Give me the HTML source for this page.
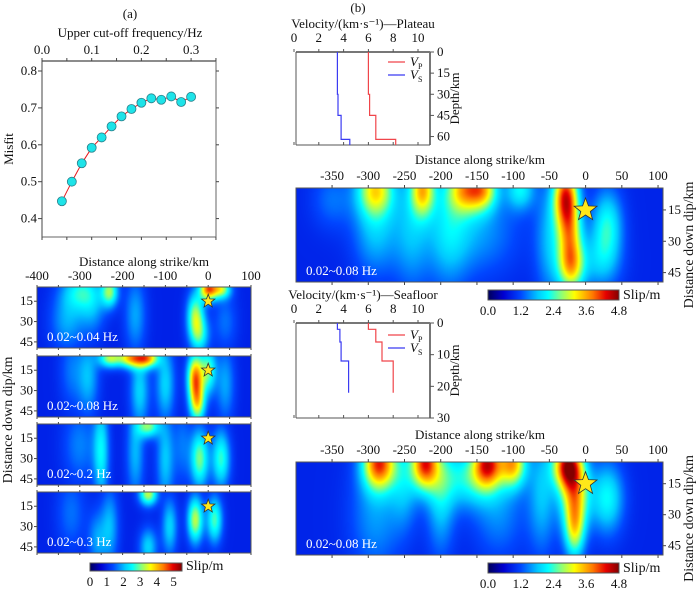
<!DOCTYPE html>
<html><head><meta charset="utf-8">
<style>
html,body{margin:0;padding:0;background:#fff;}
#wrap{position:relative;width:700px;height:591px;overflow:hidden;font-family:"Liberation Serif",serif;}
canvas{position:absolute;}
svg{position:absolute;left:0;top:0;}
text{font-family:"Liberation Serif",serif;fill:#111;}
</style></head>
<body>
<div id="wrap">
<svg id="svg" width="700" height="591"></svg>
</div>
<script>
// ---------- DATA ----------
const freqs = [0.04,0.06,0.08,0.10,0.12,0.14,0.16,0.18,0.20,0.22,0.24,0.26,0.28,0.30];
const misfits = [0.447,0.500,0.550,0.592,0.620,0.650,0.677,0.697,0.714,0.726,0.722,0.731,0.716,0.730];
const misfitTicks = [0.4,0.5,0.6,0.7,0.8];
const freqTicks = [0.0,0.1,0.2,0.3];

const plateauDepth = [0,30,30,45,45,62,62,66];
const plateauVp = [6.0,6.0,6.1,6.1,6.6,6.6,8.2,8.2];
const plateauVs = [3.5,3.5,3.55,3.55,3.8,3.8,4.5,4.5];
const seaDepth = [0,2,2,6,6,12,12,22];
const seaVp = [6.0,6.0,6.6,6.6,7.1,7.1,8.0,8.0];
const seaVs = [3.5,3.5,3.7,3.7,3.8,3.8,4.4,4.4];

// slip patches: [strike km, depth km, slip m, sigma strike, sigma depth]
const slipA1 = [[0,6,3.2,14,6],[30,6,2.2,16,5],[-230,8,2.0,14,8],[-300,8,1.3,30,10],[-30,25,2.0,14,12],[-20,40,1.4,16,10],[-170,25,0.9,18,20],[-330,30,0.9,28,15],[-270,20,0.8,22,15],[40,30,0.6,20,15]];
const slipA2 = [[-230,6,2.1,18,5],[-180,6,2.8,22,5],[-140,6,2.6,18,5],[-30,20,3.2,13,12],[-25,40,2.2,13,10],[0,15,1.8,13,12],[-100,25,1.2,16,20],[-160,30,1.2,16,20],[-280,20,1.0,18,20],[40,25,0.9,16,20],[-320,15,0.6,20,20]];
const slipA3 = [[-140,6,2.0,18,6],[-250,25,1.4,13,25],[-100,30,1.1,15,25],[-20,30,2.0,15,15],[30,30,1.7,15,15],[-170,25,1.0,15,25],[-300,20,0.7,28,20],[-60,20,0.6,15,20]];
const slipA4 = [[-140,6,2.3,15,6],[-30,25,2.3,13,12],[15,25,1.8,13,12],[-90,30,1.2,13,15],[-230,30,1.0,15,20],[-140,45,1.2,15,10],[-260,40,0.8,15,15],[-320,20,0.6,25,20]];
const slipB1 = [[-290,5,2.1,18,9],[-225,5,2.2,12,9],[-165,5,2.2,18,8],[-140,5,1.7,14,7],[-90,5,1.2,14,7],[-27,8,3.0,12,10],[-22,25,1.9,12,10],[-20,42,2.3,13,9],[30,22,1.3,15,12],[-290,25,0.9,22,15],[-150,25,0.7,40,15],[20,40,0.8,20,10],[-240,25,0.8,18,20],[-190,25,0.8,20,20],[-50,30,0.8,14,20],[-350,10,0.5,20,10]];
const slipB2 = [[-285,5,3.0,16,9],[-222,5,3.0,13,9],[-135,5,2.7,14,8],[-100,5,2.4,13,8],[-160,12,1.3,30,10],[-25,6,3.1,14,8],[-15,20,2.3,14,12],[-15,38,1.7,10,10],[30,22,1.3,16,12],[-290,30,0.7,25,20],[-120,30,0.6,25,15],[-200,20,1.0,14,20],[-60,20,0.9,14,20],[-250,15,0.8,14,15]];

const stripKm = [-400,-300,-200,-100,0,100];
const bigKm = [-350,-300,-250,-200,-150,-100,-50,0,50,100];
const depthTicks = [15,30,45];
const cbarA = [0,1,2,3,4,5];
const cbarB = [0.0,1.2,2.4,3.6,4.8];

// ---------- helpers ----------
const NS='http://www.w3.org/2000/svg';
const svg=document.getElementById('svg');
function el(tag,attrs,parent,txt){const e=document.createElementNS(NS,tag);for(const k in attrs)e.setAttribute(k,attrs[k]);if(txt!==undefined)e.textContent=txt;(parent||svg).appendChild(e);return e;}
function line(x1,y1,x2,y2,st,w,p){return el('line',{x1,y1,x2,y2,stroke:st||'#222','stroke-width':w||1},p);}
function txt(x,y,s,size,anchor,p,extra){const t=el('text',Object.assign({x,y,'font-size':size||13,'text-anchor':anchor||'middle'},extra||{}),p,s);return t;}

const cmStops=[[0,[0,0,90]],[0.12,[0,0,210]],[0.25,[0,70,255]],[0.38,[0,200,255]],[0.46,[0,255,255]],[0.56,[140,255,120]],[0.66,[255,255,0]],[0.8,[255,120,0]],[0.9,[230,0,0]],[1,[130,0,0]]];
function cmap(t){t=Math.max(0,Math.min(1,t));for(let i=1;i<cmStops.length;i++){if(t<=cmStops[i][0]){const a=cmStops[i-1],b=cmStops[i];const f=(t-a[0])/(b[0]-a[0]);return a[1].map((v,k)=>Math.round(v+(b[1][k]-v)*f));}}return cmStops[cmStops.length-1][1];}

function star(cx,cy,r,p,name){let pts=[];for(let i=0;i<10;i++){const rr=i%2?r*0.42:r;const a=-Math.PI/2+i*Math.PI/5;pts.push((cx+rr*Math.cos(a)).toFixed(1)+','+(cy+rr*Math.sin(a)).toFixed(1));}
const s=el('polygon',{points:pts.join(' '),fill:'#ffe81a',stroke:'#333','stroke-width':0.8},p);

}

function heatmap(name,x0,y0,w,h,kmMin,kmMax,dMin,dMax,patches,base,vmax,label){
  const c=document.createElement('canvas');c.width=w;c.height=h;c.style.left=x0+'px';c.style.top=y0+'px';
  
  
  document.getElementById('wrap').insertBefore(c,svg);
  const ctx=c.getContext('2d');const img=ctx.createImageData(w,h);
  for(let j=0;j<h;j++){const d=dMin+(dMax-dMin)*(j+0.5)/h;for(let i=0;i<w;i++){const km=kmMin+(kmMax-kmMin)*(i+0.5)/w;
    let v=base;for(const p of patches){const dx=(km-p[0])/p[3],dz=(d-p[1])/p[4];v+=p[2]*Math.exp(-0.5*(dx*dx+dz*dz));}
    const col=cmap(v/vmax);const o=(j*w+i)*4;img.data[o]=col[0];img.data[o+1]=col[1];img.data[o+2]=col[2];img.data[o+3]=255;}}
  ctx.putImageData(img,0,0);
  const g=el('g',{});
  el('rect',{x:x0,y:y0,width:w,height:h,fill:'none',stroke:'#555','stroke-width':1},g);
  const t=txt(x0+10,y0+h-7,label,13,'start',g,{fill:'#fff'});t.style.fill='#fff';
  
  const sx=km=>x0+(km-kmMin)/(kmMax-kmMin)*w, sy=dd=>y0+(dd-dMin)/(dMax-dMin)*h;
  star(sx(0),sy(15),name.startsWith('strip')?7:12,g,name+'-hypocenter-star');
  return {sx,sy,g};
}

function colorbar(name,x,y,w,h,ticks,vmin,vmax,sizeTxt){
  const g=el('g',{});
  const id='grad-'+name;const defs=el('defs',{},g);const lg=el('linearGradient',{id,x1:0,x2:1,y1:0,y2:0},defs);
  for(const s of cmStops)el('stop',{offset:s[0],'stop-color':'rgb('+s[1].join(',')+')'},lg);
  el('rect',{x,y,width:w,height:h,fill:'url(#'+id+')',stroke:'#555','stroke-width':1},g);
  txt(x+w+4,y+h-1,'Slip/m',14,'start',g);
  for(const t of ticks){const xx=x+(t-vmin)/(vmax-vmin)*w;txt(xx,y+h+15,ticks===cbarB?t.toFixed(1):String(t),sizeTxt,'middle',g);}
}

// ---------- Panel (a) misfit ----------
(function(){
  const g=el('g',{});
  const L=42,R=216,T=61,B=237;
  const sx=f=>42+f/0.1*49.7, sy=m=>71+(0.8-m)/0.1*36.9;
  txt(130,18,'(a)',13,'middle',g);
  const xt=txt(130,37,'Upper cut-off frequency/Hz',13,'middle',g);
  line(L,T,R,T,'#666',1.5,g);line(L,T,L,B,'#444',1,g);line(R,T,R,B,'#666',1,g);line(L,B,R,B,'#666',1,g);
  for(const f of freqTicks){txt(sx(f),54,f.toFixed(1),13,'middle',g);}
  for(let f=0;f<=0.35;f+=0.05){line(sx(f),T,sx(f),T-3,'#444',1,g);line(sx(f),B,sx(f),B+3,'#444',1,g);}
  for(const m of misfitTicks){txt(L-5,sy(m)+4,m.toFixed(1),13,'end',g);line(L,sy(m),L-4,sy(m),'#444',1,g);line(R,sy(m),R+3,sy(m),'#444',1,g);}
  const yt=txt(0,0,'Misfit',13,'middle',g,{transform:'translate(13,149) rotate(-90)'});
  const pts=freqs.map((f,i)=>sx(f).toFixed(1)+','+sy(misfits[i]).toFixed(1)).join(' ');
  const pl=el('polyline',{points:pts,fill:'none',stroke:'#e8171b','stroke-width':1},g);
  freqs.forEach((f,i)=>{const c=el('circle',{cx:sx(f),cy:sy(misfits[i]),r:4.5,fill:'#1ee3e8',stroke:'#2a7f8a','stroke-width':0.8},g);
    
    });
})();

// ---------- Left strips ----------
(function(){
  const g=el('g',{});
  const x0=37,w=214;
  txt(144,266,'Distance along strike/km',13,'middle',g);
  const sx=km=>x0+(km+400)/500*w;
  for(const k of stripKm)txt(sx(k),280,String(k),13,'middle',g);
  const tops=[287,356,424,492];
  const specs=[['strip-0.04',slipA1,'0.02~0.04 Hz'],['strip-0.08',slipA2,'0.02~0.08 Hz'],['strip-0.2',slipA3,'0.02~0.2 Hz'],['strip-0.3',slipA4,'0.02~0.3 Hz']];
  specs.forEach((s,i)=>{const hm=heatmap(s[0],x0,tops[i],w,61,-400,100,4.5,49.5,s[1],1.0,5.5,s[2]);
    for(const d of depthTicks){txt(x0-4,hm.sy(d)+4,String(d),13,'end',g);line(x0,hm.sy(d),x0-3,hm.sy(d),'#444',1,g);}
    for(let k=-400;k<=100;k+=50){line(sx(k),tops[i],sx(k),tops[i]-2,'#444',1,g);line(sx(k),tops[i]+61,sx(k),tops[i]+63,'#444',1,g);}
  });
  txt(0,0,'Distance down dip/km',14,'middle',g,{transform:'translate(12,420) rotate(-90)'});
  colorbar('colorbar-a',90,563,92,8,cbarA,0,5.5,13);
})();

// ---------- Velocity panels ----------
function velPanel(name,title,top,bottom,dmax,dticks,depth,vp,vs,legY){
  const g=el('g',{});
  const L=296,R=430;const sx=v=>294+v*12.4, sy=d=>top+d/dmax*(bottom-top);
  txt(363,top-24,title,13,'middle',g);
  for(let v=0;v<=10;v+=2)txt(sx(v),top-10,String(v),13,'middle',g);
  line(L,top,R,top,'#777',2,g);line(R,top,R,bottom,'#777',2,g);line(L,top,L,bottom,'#555',1,g);line(L,bottom,R,bottom,'#555',1,g);
  for(let v=0;v<=10;v+=2){line(sx(v),top,sx(v),top-3,'#555',1,g);line(sx(v),bottom,sx(v),bottom-3,'#555',1,g);}
  for(const d of dticks){txt(R+7,sy(d)+4,String(d),13,'start',g);line(R,sy(d),R+4,sy(d),'#555',1,g);}
  txt(0,0,'Depth/km',13,'middle',g,{transform:'translate(459,'+((top+bottom)/2)+') rotate(-90)'});
  const pvp=el('polyline',{points:depth.map((d,i)=>sx(vp[i]).toFixed(1)+','+sy(d).toFixed(1)).join(' '),fill:'none',stroke:'#f0454a','stroke-width':1.2},g);
  
  const pvs=el('polyline',{points:depth.map((d,i)=>sx(vs[i]).toFixed(1)+','+sy(d).toFixed(1)).join(' '),fill:'none',stroke:'#3b3bf2','stroke-width':1.2},g);
  
  line(388,legY,405,legY,'#f0454a',1.2,g);line(388,legY+13,405,legY+13,'#3b3bf2',1.2,g);
  const t1=el('text',{x:410,y:legY+4,'font-size':13,'font-style':'italic'},g,'V');el('tspan',{'font-size':8,'font-style':'normal',dy:3},t1,'P');
  const t2=el('text',{x:410,y:legY+17,'font-size':13,'font-style':'italic'},g,'V');el('tspan',{'font-size':8,'font-style':'normal',dy:3},t2,'S');
}
txt(358,12,'(b)',13,'middle');
velPanel('plateau-velocity','Velocity/(km·s⁻¹)—Plateau',52,145,66,[0,15,30,45,60],plateauDepth,plateauVp,plateauVs,62);
velPanel('seafloor-velocity','Velocity/(km·s⁻¹)—Seafloor',323,418,30,[0,10,20,30],seaDepth,seaVp,seaVs,335);

// ---------- Big heatmaps ----------
function bigPanel(name,top,h,patches,labelY){
  const x0=296,w=367;
  const g=el('g',{});
  const sx=km=>585.6+km*0.7244;
  txt(480,labelY,'Distance along strike/km',13,'middle',g);
  for(const k of bigKm){txt(sx(k),top-8,String(k),13,'middle',g);line(sx(k),top,sx(k),top-3,'#444',1,g);line(sx(k),top+h,sx(k),top+h+3,'#444',1,g);}
  const hm=heatmap(name,x0,top,w,h,-400,107,4.5,49.5,patches,0.9,4.8,'0.02~0.08 Hz');
  for(const d of depthTicks){txt(x0+w+5,hm.sy(d)+4,String(d),13,'start',g);line(x0+w,hm.sy(d),x0+w+3,hm.sy(d),'#444',1,g);}
  txt(0,0,'Distance down dip/km',14,'middle',g,{transform:'translate(693,'+(top+h/2+10)+') rotate(-90)'});
}
bigPanel('plateau-slip',188,94,slipB1,164);
colorbar('colorbar-b1',488,290,131,10,cbarB,0,4.8,13);
bigPanel('seafloor-slip',462,93,slipB2,439);
colorbar('colorbar-b2',488,563,131,10,cbarB,0,4.8,13);
</script>
</body></html>
